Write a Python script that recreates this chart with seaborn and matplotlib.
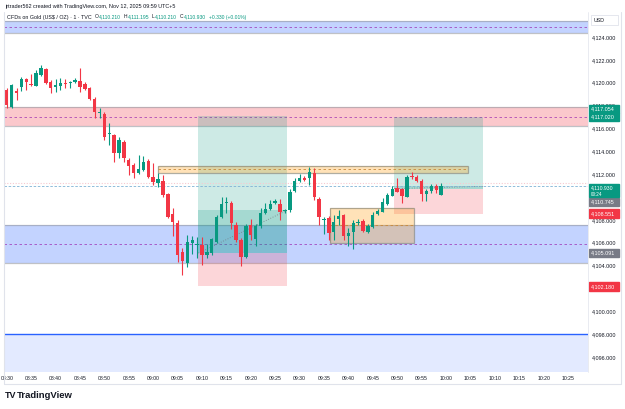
import numpy as np
import pandas as pd
import matplotlib
matplotlib.use('Agg')
import matplotlib.pyplot as plt
import matplotlib.transforms as mtransforms
from matplotlib.patches import Rectangle
import seaborn as sns

# one-minute candles, 08:30 .. 09:59
times = pd.date_range('2025-11-12 08:30', periods=90, freq='1min')
opens = [4119.36, 4117.85, 4119.28, 4119.60, 4120.33, 4119.89, 4119.74, 4120.68, 4121.20, 4120.09,
         4119.60, 4119.71, 4119.95, 4120.00, 4120.09, 4120.18, 4119.89, 4119.51, 4118.58, 4117.39,
         4117.26, 4115.53, 4115.43, 4113.83, 4114.84, 4113.24, 4112.80, 4112.08, 4112.36, 4113.15,
         4111.73, 4111.25, 4111.43, 4110.24, 4108.49, 4107.75, 4105.19, 4104.25, 4106.00, 4105.82,
         4105.80, 4104.93, 4105.08, 4106.09, 4108.28, 4109.48, 4109.48, 4107.55, 4106.24, 4104.78,
         4107.55, 4106.37, 4107.46, 4108.60, 4108.97, 4109.49, 4109.39, 4108.76, 4108.86, 4110.53,
         4111.40, 4111.64, 4111.69, 4112.08, 4109.80, 4108.02, 4108.19, 4106.97, 4108.05, 4108.43,
         4106.59, 4106.97, 4107.70, 4107.90, 4106.98, 4107.38, 4108.49, 4108.72, 4109.39, 4110.13,
         4110.76, 4110.68, 4110.03, 4111.81, 4111.73, 4111.40, 4110.26, 4110.53, 4110.96, 4110.21]
highs = [4119.54, 4119.89, 4119.54, 4120.53, 4120.41, 4120.76, 4121.11, 4121.55, 4121.29, 4120.24,
         4120.33, 4120.41, 4120.33, 4120.15, 4120.41, 4121.31, 4120.06, 4119.63, 4118.75, 4117.79,
         4117.46, 4116.48, 4115.51, 4115.28, 4114.99, 4113.39, 4112.95, 4113.68, 4113.59, 4113.33,
         4113.00, 4112.10, 4111.93, 4110.35, 4109.01, 4107.99, 4105.54, 4106.68, 4106.59, 4106.50,
         4106.50, 4105.89, 4106.41, 4108.43, 4110.00, 4110.03, 4109.65, 4107.81, 4106.41, 4107.64,
         4108.08, 4107.64, 4109.04, 4109.48, 4109.74, 4109.83, 4109.83, 4108.95, 4110.70, 4111.66,
         4112.01, 4111.84, 4112.63, 4112.54, 4110.00, 4108.23, 4108.34, 4108.43, 4108.86, 4108.51,
         4107.29, 4107.99, 4108.08, 4108.08, 4107.64, 4108.69, 4108.95, 4109.91, 4110.35, 4110.96,
         4111.64, 4110.79, 4111.93, 4112.22, 4111.93, 4111.58, 4110.70, 4111.14, 4111.14, 4111.195]
lows = [4117.79, 4117.79, 4118.49, 4119.30, 4119.36, 4119.71, 4119.71, 4120.59, 4119.89, 4119.07,
        4119.21, 4119.36, 4119.54, 4119.54, 4119.98, 4119.19, 4119.36, 4118.49, 4116.91, 4116.91,
        4114.99, 4114.55, 4113.09, 4113.39, 4113.09, 4111.93, 4111.64, 4112.01, 4112.28, 4111.66,
        4111.05, 4110.90, 4110.00, 4108.16, 4106.59, 4104.31, 4103.18, 4103.90, 4105.01, 4104.66,
        4104.05, 4104.66, 4104.93, 4105.98, 4108.16, 4108.60, 4107.20, 4106.06, 4103.96, 4104.66,
        4106.24, 4105.71, 4107.29, 4108.51, 4108.86, 4109.39, 4107.99, 4108.60, 4108.69, 4110.44,
        4111.31, 4111.40, 4111.05, 4109.74, 4107.55, 4106.77, 4106.24, 4106.24, 4107.55, 4106.24,
        4105.70, 4105.43, 4107.55, 4106.94, 4106.85, 4107.29, 4108.43, 4108.69, 4109.30, 4110.09,
        4110.44, 4109.45, 4110.00, 4111.58, 4111.31, 4109.68, 4109.65, 4110.35, 4110.35, 4110.21]
closes = [4118.05, 4119.80, 4119.14, 4120.33, 4120.04, 4119.77, 4120.82, 4121.26, 4119.95, 4119.51,
          4119.80, 4120.00, 4119.86, 4120.06, 4120.24, 4119.65, 4119.42, 4118.55, 4117.41, 4117.45,
          4115.28, 4115.60, 4113.83, 4114.99, 4113.39, 4112.74, 4112.08, 4112.43, 4113.06, 4111.73,
          4111.34, 4111.58, 4110.18, 4108.28, 4107.84, 4104.93, 4104.40, 4106.04, 4106.24, 4105.91,
          4104.93, 4105.22, 4106.30, 4108.28, 4109.36, 4109.56, 4107.73, 4106.20, 4104.78, 4107.46,
          4106.68, 4107.46, 4108.63, 4108.91, 4109.37, 4109.68, 4108.72, 4108.83, 4110.48, 4111.36,
          4111.64, 4111.49, 4112.22, 4110.03, 4108.28, 4108.08, 4106.88, 4107.79, 4108.34, 4106.59,
          4106.85, 4107.75, 4107.84, 4107.05, 4107.48, 4108.45, 4108.78, 4109.59, 4110.18, 4110.73,
          4110.46, 4110.05, 4111.78, 4111.71, 4111.43, 4110.24, 4110.53, 4110.96, 4110.61, 4110.93]

# rectangles drawn on the chart (price ranges)
band_low = [4124.38, 4116.21, 4104.20]
band_high = [4125.43, 4117.85, 4107.53]
support_line = 4097.99

box_left = [31.0, 66.2]
box_right = [94.5, 83.4]
box_low = [4112.13, 4106.02]
box_high = [4112.71, 4109.01]

# long position tools
pos_left = [39.25, 79.4]
pos_right = [57.4, 97.6]
pos_entry = [4105.091, 4110.745]
pos_target = [4117.054, 4117.020]
pos_stop = [4102.180, 4108.551]
pos_last = [4108.83, 4110.93]

tick_minutes = list(range(0, 120, 5))
tick_labels = pd.date_range('2025-11-12 08:30', periods=24, freq='5min').strftime('%H:%M').tolist()
price_ticks = [4096, 4098, 4100, 4104, 4106, 4108, 4112, 4114, 4116, 4118, 4120, 4122, 4124]

legend_parts = [('O', 'dark'), ('4,110.210', 'up'), ('H', 'dark'), ('4,111.195', 'up'),
                ('L', 'dark'), ('4,110.210', 'up'), ('C', 'dark'), ('4,110.930', 'up'),
                ('+0.330 (+0.01%)', 'up')]

GREEN = '#089981'
RED = '#f23645'
GRAY = '#787b86'
TXT = '#131722'

sns.set_theme(style='white')
plt.rcParams['font.family'] = ['Liberation Sans', 'DejaVu Sans']

W, H = 625, 409
fig = plt.figure(figsize=(W / 100, H / 100), dpi=100)
ax = fig.add_axes([4 / W, 1 - 372 / H, 584 / W, 360 / H])
ax.set_xlim(-0.57, 119.1)
ax.set_ylim(4094.69, 4126.19)
ax.set_facecolor('white')
for s in ax.spines.values():
    s.set_visible(False)

# horizontal zones
for lo, hi, fc in zip(band_low, band_high, ['#2962ff', RED, '#2962ff']):
    ax.axhspan(lo, hi, color=fc, alpha=0.28 if fc != RED else 0.27, lw=0, zorder=1)
    ax.axhline(lo, color='#9598a1', lw=0.9, alpha=0.6, zorder=1.2)
    ax.axhline(hi, color='#9598a1', lw=0.9, alpha=0.6, zorder=1.2)
    ax.axhline((lo + hi) / 2, color='#9c27b0', lw=0.6, ls=(0, (3, 3)), alpha=0.8, zorder=1.3)
ax.axhspan(4094.0, support_line, color='#2962ff', alpha=0.13, lw=0, zorder=1)
ax.axhline(support_line, color='#2962ff', lw=1.0, zorder=1.4)

# long positions
for x0, x1, e, t, s, last in zip(pos_left, pos_right, pos_entry, pos_target, pos_stop, pos_last):
    ax.add_patch(Rectangle((x0, e), x1 - x0, t - e, color=GREEN, alpha=0.2, lw=0, zorder=1.5))
    ax.add_patch(Rectangle((x0, s), x1 - x0, e - s, color=RED, alpha=0.2, lw=0, zorder=1.5))
    ax.add_patch(Rectangle((x0, e), x1 - x0, last - e, color=GREEN, alpha=0.2, lw=0, zorder=1.6))
    ax.plot([x0, x1], [e, last], color=GRAY, lw=0.6, ls=(0, (1, 2)), zorder=1.7)

# orange boxes
for x0, x1, lo, hi in zip(box_left, box_right, box_low, box_high):
    ax.add_patch(Rectangle((x0, lo), x1 - x0, hi - lo, facecolor='#ff9800', alpha=0.28, lw=0, zorder=1.8))
    ax.add_patch(Rectangle((x0, lo), x1 - x0, hi - lo, facecolor='none', edgecolor='#8d8a7a',
                           alpha=0.7, lw=0.9, zorder=1.9))
    ax.plot([x0, x1], [(lo + hi) / 2] * 2, color='#c98a3a', lw=0.6, ls=(0, (3, 3)), zorder=1.9)

# last price lines
ax.axhline(closes[-1], color='#7fb3d5', lw=0.6, ls=(0, (3, 2)), zorder=2)
ax.axhline(4111.25, color='#f7c9cf', lw=0.8, ls=(0, (1, 1.5)), zorder=2)

# candles
df = pd.DataFrame({'t': np.arange(len(times)), 'o': opens, 'h': highs, 'l': lows, 'c': closes})
colors = np.where(df.c >= df.o, GREEN, RED)
ax.vlines(df.t, df.l, df.h, colors=colors, lw=0.8, zorder=3)
body = (df.c - df.o).abs().clip(lower=0.05)
ax.bar(df.t, body, bottom=np.minimum(df.o, df.c), width=0.7, color=colors, lw=0, zorder=4)

# axes ticks
ax.set_xticks(tick_minutes)
ax.set_xticklabels(tick_labels)
ax.set_yticks(price_ticks)
ax.set_yticklabels([f'{p:,.3f}' for p in price_ticks])
ax.yaxis.tick_right()
ax.tick_params(axis='y', length=0, pad=3, labelsize=3.9, labelcolor=TXT)
ax.tick_params(axis='x', length=0, pad=3.2, labelsize=3.7, labelcolor=TXT)
for lab in ax.get_yticklabels():
    lab.set_horizontalalignment('left')

# price tags on the right scale
tr = mtransforms.blended_transform_factory(fig.transFigure, ax.transData)
tags = [(4117.70, '4,117.054', GREEN), (4117.02, '4,117.020', GREEN),
        (4109.56, '4,110.745', GRAY), (4108.551, '4,108.551', RED),
        (4105.091, '4,105.091', GRAY), (4102.180, '4,102.180', RED)]
for y, txt, c in tags:
    ax.add_patch(Rectangle((589 / W, y - 0.36), 30 / W, 0.72, transform=tr, color=c,
                           clip_on=False, zorder=10))
    ax.text(591 / W, y, txt, transform=tr, color='white', fontsize=3.9, va='center',
            ha='left', clip_on=False, zorder=11)
ax.add_patch(Rectangle((589 / W, 4109.97), 30 / W, 1.18, transform=tr, color=GREEN,
                       clip_on=False, zorder=10))
ax.text(591 / W, 4110.84, '4,110.930', transform=tr, color='white', fontsize=3.7, va='center',
        ha='left', zorder=11)
ax.text(591 / W, 4110.26, '00:24', transform=tr, color='white', fontsize=3.3, va='center',
        ha='left', zorder=11)

# frame lines
fig.add_artist(plt.Line2D([4 / W, 4 / W], [1 - 12 / H, 1 - 384 / H], color='#e0e3eb', lw=0.8))
fig.add_artist(plt.Line2D([621 / W, 621 / W], [1 - 12 / H, 1 - 384 / H], color='#e0e3eb', lw=0.8))
fig.add_artist(plt.Line2D([4 / W, 621 / W], [1 - 384 / H, 1 - 384 / H], color='#e0e3eb', lw=0.8))
fig.add_artist(plt.Line2D([588 / W, 588 / W], [1 - 12 / H, 1 - 372 / H], color='#e0e3eb', lw=0.5))
fig.add_artist(Rectangle((591 / W, 1 - 25 / H), 27 / W, 10 / H, transform=fig.transFigure,
                         facecolor='white', edgecolor='#e0e3eb', lw=0.6))
fig.text(594 / W, 1 - 20 / H, 'USD', fontsize=3.8, color=TXT, va='center')

# header and legend
fig.text(5 / W, 1 - 6.5 / H, 'jrtrader562 created with TradingView.com, Nov 12, 2025 09:59 UTC+5',
         fontsize=4.0, color=TXT, va='center')
prev = fig.text(7 / W, 1 - 17 / H, 'CFDs on Gold (US$ / OZ) · 1 · TVC', fontsize=3.9,
                color=TXT, va='center')
gap = 2.2
for txt, kind in legend_parts:
    prev = ax.annotate(txt, xy=(1, 0.5), xycoords=prev, xytext=(gap, 0), textcoords='offset points',
                       va='center', ha='left', fontsize=3.6,
                       color=TXT if kind == 'dark' else GREEN)
    gap = 0.1 if kind == 'dark' else 2.2

# TradingView logo
fig.text(5 / W, 1 - 396 / H, 'TV', fontsize=6.5, fontweight='bold', color=TXT, va='center')
fig.text(17 / W, 1 - 396 / H, 'TradingView', fontsize=6.8, fontweight='bold', color=TXT, va='center')

fig.savefig('out.png', dpi=100, facecolor='white')
